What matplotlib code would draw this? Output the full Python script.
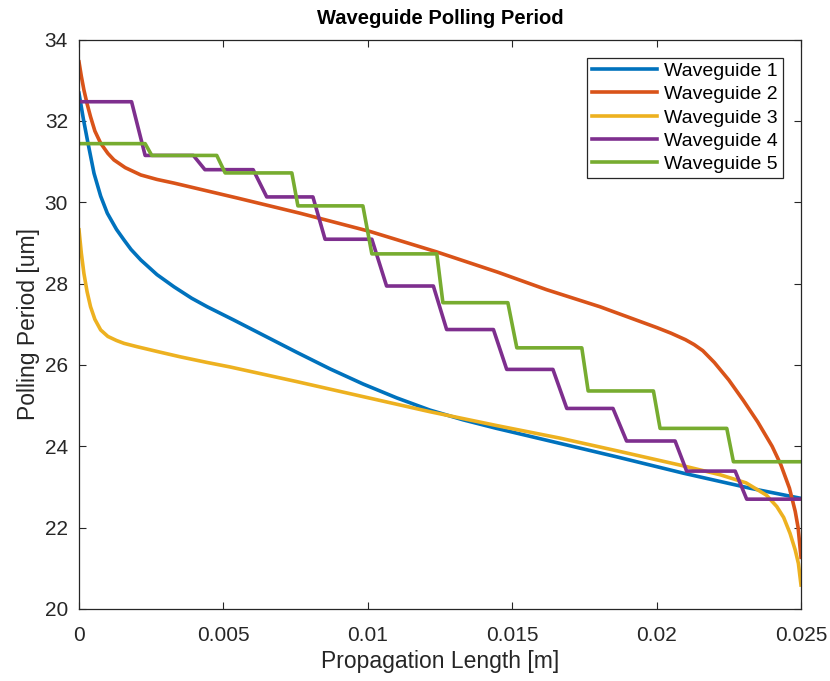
import matplotlib
matplotlib.use("Agg")
import matplotlib.pyplot as plt

plt.rcParams['font.family'] = ['Liberation Sans', 'DejaVu Sans']

# Waveguide 1 (blue)
wg1_x = [0, 0.00006, 0.00015, 0.00029, 0.00052, 0.00075, 0.00098, 0.0013, 0.00156, 0.0018,
         0.00214, 0.0027, 0.00329, 0.0039, 0.00444, 0.00537, 0.00754, 0.0087, 0.00984, 0.0110,
         0.01215, 0.0133, 0.01446, 0.01666, 0.01862, 0.02092, 0.02323, 0.025]
wg1_y = [32.68, 32.43, 32.05, 31.53, 30.71, 30.15, 29.73, 29.33, 29.07, 28.84,
         28.58, 28.22, 27.92, 27.64, 27.43, 27.1, 26.31, 25.9, 25.53, 25.19,
         24.89, 24.65, 24.44, 24.07, 23.74, 23.34, 22.97, 22.72]

# Waveguide 2 (orange)
wg2_x = [0, 0.00008, 0.00017, 0.00028, 0.0004, 0.00055, 0.00075, 0.001, 0.00121, 0.0016,
         0.00214, 0.0027, 0.00329, 0.0055, 0.00765, 0.01008, 0.01238, 0.0145, 0.01619,
         0.01804, 0.0200, 0.0205, 0.021, 0.0213, 0.0216, 0.022, 0.0225, 0.023, 0.0235,
         0.024, 0.0243, 0.0246, 0.0248, 0.0249, 0.025]
wg2_y = [33.45, 33.1, 32.76, 32.42, 32.1, 31.75, 31.45, 31.2, 31.04, 30.85,
         30.67, 30.56, 30.47, 30.1, 29.73, 29.28, 28.78, 28.28, 27.85,
         27.43, 26.92, 26.78, 26.62, 26.5, 26.35, 26.06, 25.63, 25.13, 24.6,
         24.0, 23.55, 22.97, 22.4, 22.0, 21.27]

# Waveguide 3 (yellow)
wg3_x = [0, 0.00008, 0.00017, 0.00028, 0.0004, 0.00055, 0.00075, 0.001, 0.0013, 0.00156,
         0.002, 0.00271, 0.0035, 0.00444, 0.00523, 0.00754, 0.00984, 0.01215, 0.01446,
         0.01666, 0.01862, 0.02092, 0.0222, 0.0231, 0.0238, 0.02416, 0.0244, 0.02462,
         0.0248, 0.02491, 0.025]
wg3_y = [29.32, 28.75, 28.25, 27.8, 27.43, 27.12, 26.86, 26.7, 26.6, 26.53,
         26.45, 26.33, 26.2, 26.06, 25.95, 25.59, 25.22, 24.85, 24.51,
         24.2, 23.89, 23.52, 23.3, 23.1, 22.8, 22.52, 22.25, 21.86,
         21.45, 21.12, 20.59]

# Waveguide 4 (purple, stepped)
wg4_x = [0, 0.00182, 0.00229, 0.00396, 0.00436, 0.00603, 0.0065, 0.0081, 0.00852, 0.01014,
         0.01065, 0.01227, 0.01273, 0.01435, 0.01481, 0.01641, 0.01689, 0.01849, 0.01896,
         0.02064, 0.02104, 0.02272, 0.02312, 0.025]
wg4_y = [32.47, 32.47, 31.15, 31.15, 30.8, 30.8, 30.13, 30.13, 29.09, 29.09,
         27.94, 27.94, 26.87, 26.87, 25.89, 25.89, 24.93, 24.93, 24.13,
         24.13, 23.39, 23.39, 22.70, 22.70]

# Waveguide 5 (green, stepped)
wg5_x = [0, 0.00229, 0.00252, 0.00477, 0.00506, 0.00737, 0.00758, 0.00983, 0.01014, 0.01239,
         0.0126, 0.01485, 0.01516, 0.01741, 0.01763, 0.01989, 0.02012, 0.02243, 0.02266, 0.025]
wg5_y = [31.44, 31.44, 31.15, 31.15, 30.72, 30.72, 29.91, 29.91, 28.73, 28.73,
         27.53, 27.53, 26.42, 26.42, 25.36, 25.36, 24.44, 24.44, 23.62, 23.62]

labels = ['Waveguide 1', 'Waveguide 2', 'Waveguide 3', 'Waveguide 4', 'Waveguide 5']
colors = ['#0072BD', '#D95319', '#EDB120', '#7E2F8E', '#77AC30']
xticks = [0, 0.005, 0.01, 0.015, 0.02, 0.025]
xticklabels = ['0', '0.005', '0.01', '0.015', '0.02', '0.025']
yticks = [20, 22, 24, 26, 28, 30, 32, 34]

fig = plt.figure(figsize=(8.3, 6.81), dpi=100)
ax = fig.add_axes([79/830, 1 - 609/681, (801 - 79)/830, (609 - 39.5)/681])

series = [(wg1_x, wg1_y), (wg2_x, wg2_y), (wg3_x, wg3_y), (wg4_x, wg4_y), (wg5_x, wg5_y)]
for (xs, ys), lab, c in zip(series, labels, colors):
    ax.plot(xs, ys, color=c, lw=2.6, label=lab, solid_joinstyle='round')

ax.set_xlim(0, 0.025)
ax.set_ylim(20, 34)
ax.set_xticks(xticks)
ax.set_xticklabels(xticklabels)
ax.set_yticks(yticks)
tc = '#262626'
ax.tick_params(direction='in', top=True, right=True, labelsize=15, colors=tc,
               length=5, width=0.8)
ax.tick_params(axis='x', pad=12)
ax.tick_params(axis='y', pad=8)
for s in ax.spines.values():
    s.set_color(tc)
    s.set_linewidth(0.9)

ax.set_xlabel('Propagation Length [m]', fontsize=16.5, color=tc, labelpad=4)
ax.set_ylabel('Polling Period [um]', fontsize=16.5, color=tc, labelpad=3)
ax.set_title('Waveguide Polling Period', fontsize=14.5, fontweight='bold', color='black', pad=11)

leg = ax.legend(loc='upper right', fontsize=14, fancybox=False, framealpha=1,
                edgecolor=tc, borderaxespad=0.93, borderpad=0.25, labelspacing=0.29,
                handlelength=3.35, handletextpad=0.36)
leg.get_frame().set_linewidth(0.9)

fig.savefig('out.png', dpi=100)
